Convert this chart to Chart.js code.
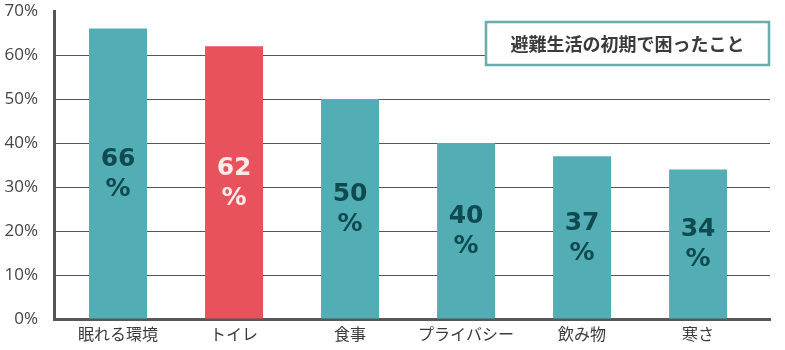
<!DOCTYPE html>
<html>
<head>
<meta charset="utf-8">
<script src="https://cdn.jsdelivr.net/npm/chart.js@4/dist/chart.umd.min.js"></script>
<style>
  html, body { margin: 0; padding: 0; background: #fff; }
  #wrap { width: 785px; height: 350px; }
</style>
</head>
<body>
<div id="wrap"><canvas id="troubleChart"></canvas></div>
<script>
// categories and shares (%)
const categories = ['眠れる環境', 'トイレ', '食事', 'プライバシー', '飲み物', '寒さ'];
const shares = [66, 62, 50, 40, 37, 34];
const barColors = ['#52aeb4', '#e8525c', '#52aeb4', '#52aeb4', '#52aeb4', '#52aeb4'];
const labelColors = ['#0e4a50', '#fbeaea', '#0e4a50', '#0e4a50', '#0e4a50', '#0e4a50'];
const yTicks = [0, 10, 20, 30, 40, 50, 60, 70];
const boxTitle = '避難生活の初期で困ったこと';

// value text inside each bar, two lines: "66" / "%"
const barValueLabels = {
    id: 'barValueLabels',
    afterDatasetsDraw(chart) {
        const ctx = chart.ctx;
        const meta = chart.getDatasetMeta(0);
        ctx.save();
        ctx.font = 'bold 25px "DejaVu Sans"';
        ctx.textAlign = 'center';
        ctx.textBaseline = 'middle';
        meta.data.forEach((bar, i) => {
            const mid = (bar.y + bar.base) / 2;
            ctx.fillStyle = labelColors[i];
            ctx.fillText(String(shares[i]), bar.x, mid - 14);
            ctx.fillText('%', bar.x, mid + 16);
        });
        ctx.restore();
    }
};

// framed title box in the upper right
const titleBox = {
    id: 'titleBox',
    afterDraw(chart) {
        const ctx = chart.ctx;
        const area = chart.chartArea;
        const w = 283, h = 43;
        const x = area.right - w - 1;
        const y = area.top + 11;
        ctx.save();
        ctx.fillStyle = '#ffffff';
        ctx.fillRect(x, y, w, h);
        ctx.strokeStyle = '#6aabae';
        ctx.lineWidth = 2.5;
        ctx.strokeRect(x, y, w, h);
        ctx.fillStyle = '#3a3a3a';
        ctx.font = 'bold 18px "Noto Sans CJK JP"';
        ctx.textAlign = 'center';
        ctx.textBaseline = 'middle';
        ctx.fillText(boxTitle, x + w / 2, y + h / 2 + 1);
        ctx.restore();
    }
};

new Chart(document.getElementById('troubleChart'), {
    type: 'bar',
    data: {
        datasets: [{
            data: shares.map((v, i) => ({ x: i, y: v })),
            backgroundColor: barColors,
            borderWidth: 0,
            barPercentage: 0.5,
            categoryPercentage: 1
        }]
    },
    options: {
        responsive: true,
        maintainAspectRatio: false,
        animation: false,
        layout: { autoPadding: false, padding: { top: 11, right: 15, left: 0, bottom: 0 } },
        plugins: {
            legend: { display: false },
            tooltip: { enabled: false }
        },
        scales: {
            x: {
                type: 'linear',
                offset: false,
                min: -0.552,
                max: 5.62,
                z: 1,
                afterBuildTicks: scale => { scale.ticks = categories.map((c, i) => ({ value: i })); },
                afterFit: scale => { scale.height = 31; },
                ticks: {
                    autoSkip: false,
                    maxRotation: 0,
                    padding: 5,
                    color: '#3a3a3a',
                    font: { family: '"Noto Sans CJK JP"', size: 16 },
                    callback: v => categories[v]
                },
                grid: { display: false, drawTicks: false },
                border: { display: true, width: 3, color: 'rgba(0,0,0,0.66)' }
            },
            y: {
                min: 0,
                max: 70,
                afterBuildTicks: scale => { scale.ticks = yTicks.map(v => ({ value: v })); },
                afterFit: scale => {
                    scale.width = 54;
                    scale.paddingTop = 0;
                    scale.paddingBottom = 0;
                },
                ticks: {
                    padding: 16,
                    color: '#444',
                    font: { family: '"Open Sans"', size: 17 },
                    callback: v => v + '%'
                },
                grid: {
                    drawTicks: false,
                    lineWidth: 1,
                    color: c => (c.tick && (c.tick.value === 70 || c.tick.value === 0)) ? 'rgba(0,0,0,0)' : '#555'
                },
                border: { display: true, width: 3, color: '#555' }
            }
        }
    },
    plugins: [barValueLabels, titleBox]
});
</script>
</body>
</html>
